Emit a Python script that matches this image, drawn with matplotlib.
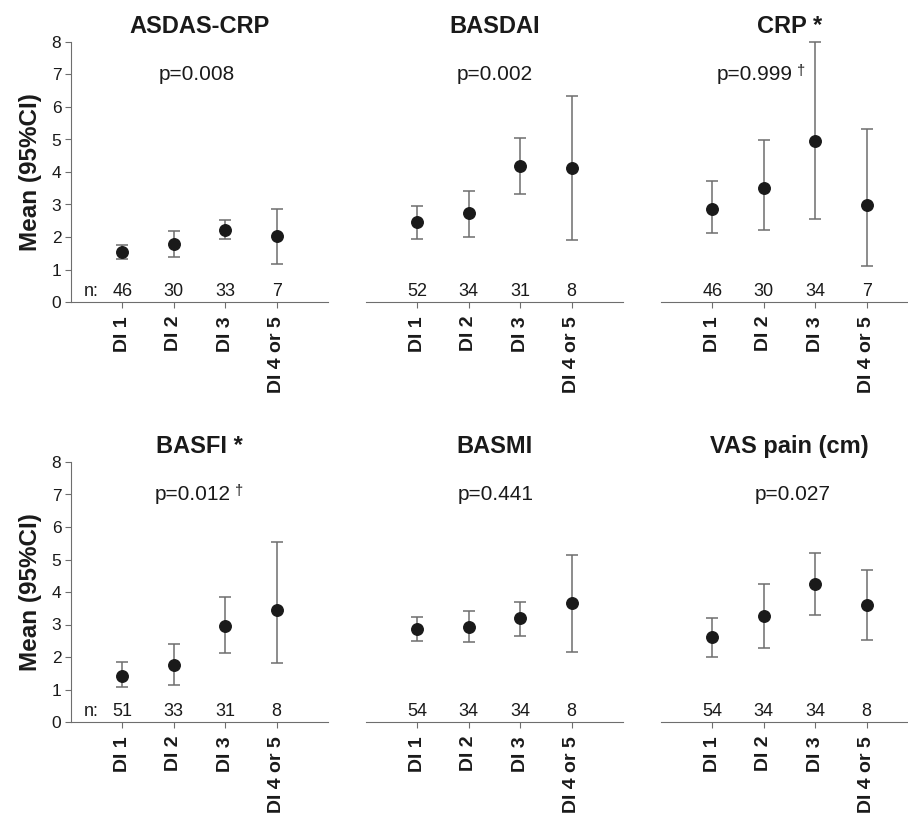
import matplotlib
matplotlib.use("Agg")
import matplotlib.pyplot as plt

plt.rcParams['font.family'] = ['Liberation Sans', 'DejaVu Sans']

categories = ["DI 1", "DI 2", "DI 3", "DI 4 or 5"]
titles = ["ASDAS-CRP", "BASDAI", "CRP *", "BASFI *", "BASMI", "VAS pain (cm)"]
p_texts = ["p=0.008", "p=0.002", "p=0.999", "p=0.012", "p=0.441", "p=0.027"]
p_dagger = [False, False, True, True, False, False]

asdas_mean = [1.55, 1.78, 2.22, 2.03]
asdas_low = [1.32, 1.38, 1.93, 1.18]
asdas_high = [1.75, 2.18, 2.52, 2.87]
asdas_n = [46, 30, 33, 7]

basdai_mean = [2.45, 2.75, 4.19, 4.12]
basdai_low = [1.93, 2.00, 3.33, 1.92]
basdai_high = [2.96, 3.43, 5.06, 6.33]
basdai_n = [52, 34, 31, 8]

crp_mean = [2.87, 3.51, 4.95, 2.99]
crp_low = [2.11, 2.22, 2.56, 1.12]
crp_high = [3.73, 4.97, 7.99, 5.33]
crp_n = [46, 30, 34, 7]

basfi_mean = [1.43, 1.75, 2.96, 3.44]
basfi_low = [1.09, 1.13, 2.12, 1.81]
basfi_high = [1.85, 2.40, 3.86, 5.55]
basfi_n = [51, 33, 31, 8]

basmi_mean = [2.87, 2.93, 3.19, 3.65]
basmi_low = [2.49, 2.45, 2.66, 2.14]
basmi_high = [3.24, 3.41, 3.70, 5.14]
basmi_n = [54, 34, 34, 8]

vas_mean = [2.61, 3.26, 4.26, 3.60]
vas_low = [2.00, 2.28, 3.30, 2.51]
vas_high = [3.21, 4.24, 5.21, 4.67]
vas_n = [54, 34, 34, 8]

panels = [
    (asdas_mean, asdas_low, asdas_high, asdas_n),
    (basdai_mean, basdai_low, basdai_high, basdai_n),
    (crp_mean, crp_low, crp_high, crp_n),
    (basfi_mean, basfi_low, basfi_high, basfi_n),
    (basmi_mean, basmi_low, basmi_high, basmi_n),
    (vas_mean, vas_low, vas_high, vas_n),
]

# layout (pixels)
W, H = 908, 821
col_left = [71, 366, 661]
row_bottom = [302, 722]
ax_w, ax_h = 257, 260
p_x = [2.44, 2.51, 1.82, 2.37, 2.53, 2.57]

fig = plt.figure(figsize=(W / 100, H / 100), dpi=100)
fig.patch.set_facecolor('white')

grey = '#6e6e6e'
txt = '#1a1a1a'

for i, (mean, low, high, n) in enumerate(panels):
    r, c = divmod(i, 3)
    ax = fig.add_axes([col_left[c] / W, 1 - row_bottom[r] / H, ax_w / W, ax_h / H])
    x = list(range(1, len(categories) + 1))
    yerr = [[m - l for m, l in zip(mean, low)], [h - m for m, h in zip(mean, high)]]
    ax.errorbar(x, mean, yerr=yerr, fmt='o', color=txt, ecolor=grey, elinewidth=1.1,
                capsize=4, capthick=1.1, markersize=8.3, clip_on=False, zorder=3)
    ax.set_xlim(0, 5)
    ax.set_ylim(0, 8)
    for s in ['top', 'right']:
        ax.spines[s].set_visible(False)
    ax.spines['bottom'].set_color(grey)
    ax.spines['left'].set_color(grey)
    ax.set_xticks(x)
    ax.set_xticklabels(categories, rotation=90, fontsize=14, fontweight='bold', color=txt)
    ax.tick_params(axis='x', length=4, color=grey, pad=6)
    if c == 0:
        ax.set_yticks(range(0, 9))
        ax.tick_params(axis='y', length=4, color=grey, labelsize=12.5, labelcolor=txt, pad=3)
        ax.set_ylabel("Mean (95%CI)", fontsize=17.5, fontweight='bold', color=txt, labelpad=7)
        ax.text(0.39, 0.18, "n:", ha='center', va='baseline', fontsize=13, color=txt)
    else:
        ax.spines['left'].set_visible(False)
        ax.set_yticks([])
    for xi, ni in zip(x, n):
        ax.text(xi, 0.18, str(ni), ha='center', va='baseline', fontsize=13, color=txt)
    ax.set_title(titles[i], fontsize=17, fontweight='bold', color=txt, pad=6.5)
    t = ax.text(p_x[i], 6.83, p_texts[i], ha='center', va='baseline', fontsize=15, color=txt)
    if p_dagger[i]:
        ax.annotate("\u2020", xy=(1, 1), xycoords=t, xytext=(3, 1), textcoords='offset points',
                    ha='left', va='top', fontsize=10.5, color=txt)

fig.savefig("out.png", dpi=100, facecolor='white')
